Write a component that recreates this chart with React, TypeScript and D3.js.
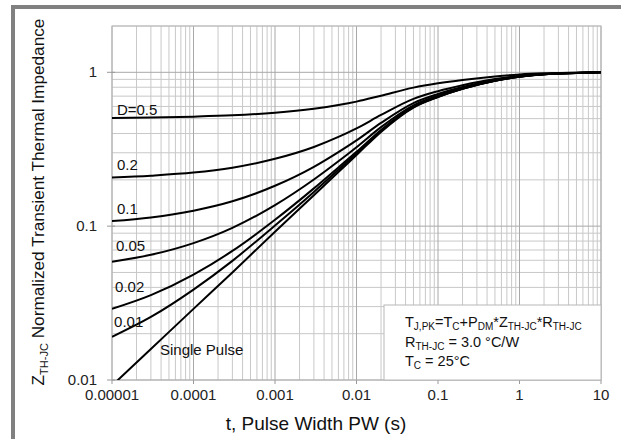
import React from "react";
import * as d3 from "d3";

const times = [1e-5, 3e-5, 1e-4, 3e-4, 1e-3, 3e-3, 6e-3, 1e-2, 2e-2, 5e-2, 0.1, 0.2, 0.5, 1, 2, 5, 10];
const seriesNames = ["D=0.5", "0.2", "0.1", "0.05", "0.02", "0.01", "Single Pulse"];
const d05 = [0.505, 0.508, 0.515, 0.525, 0.546, 0.58, 0.613, 0.645, 0.705, 0.795, 0.848, 0.892, 0.94, 0.968, 0.985, 0.995, 1.0];
const d02 = [0.207, 0.213, 0.223, 0.24, 0.274, 0.327, 0.38, 0.432, 0.528, 0.672, 0.754, 0.824, 0.904, 0.948, 0.976, 0.992, 1.0];
const d01 = [0.108, 0.114, 0.126, 0.145, 0.183, 0.243, 0.303, 0.361, 0.469, 0.631, 0.722, 0.802, 0.892, 0.942, 0.973, 0.991, 1.0];
const d005 = [0.0587, 0.0651, 0.0776, 0.0975, 0.137, 0.201, 0.264, 0.326, 0.44, 0.61, 0.706, 0.791, 0.886, 0.938, 0.972, 0.99, 1.0];
const d002 = [0.029, 0.0356, 0.0484, 0.069, 0.11, 0.176, 0.241, 0.304, 0.422, 0.598, 0.696, 0.784, 0.882, 0.936, 0.971, 0.99, 1.0];
const d001 = [0.0191, 0.0257, 0.0387, 0.0595, 0.101, 0.167, 0.233, 0.297, 0.416, 0.594, 0.693, 0.782, 0.881, 0.936, 0.97, 0.99, 1.0];
const single = [0.0092, 0.0159, 0.029, 0.05, 0.092, 0.159, 0.225, 0.29, 0.41, 0.59, 0.69, 0.78, 0.88, 0.935, 0.97, 0.99, 1.0];
const seriesValues = [d05, d02, d01, d005, d002, d001, single];
// label anchor positions in data coords (t, Z)
const labelT = [1.15e-5, 1.15e-5, 1.15e-5, 1.12e-5, 1.09e-5, 1.06e-5, 3.88e-5];
const labelZ = [0.526, 0.231, 0.1197, 0.0688, 0.0373, 0.0221, 0.0145];

const xTickValues = [1e-5, 1e-4, 1e-3, 1e-2, 1e-1, 1, 10];
const xTickLabels = ["0.00001", "0.0001", "0.001", "0.01", "0.1", "1", "10"];
const yTickValues = [0.01, 0.1, 1];
const yTickLabels = ["0.01", "0.1", "1"];

const W = 621;
const H = 439;
const M = { left: 112, right: 601, top: 26, bottom: 380 };
const FONT = "'Liberation Sans', Arial, Helvetica, sans-serif";

export default function App() {
  const x = d3.scaleLog().domain([1e-5, 10]).range([M.left, M.right]);
  const y = d3.scaleLog().domain([0.01, 2]).range([M.bottom, M.top]);

  const minorX: number[] = [];
  for (let e = -5; e < 1; e++) {
    for (let k = 2; k <= 9; k++) minorX.push(k * Math.pow(10, e));
  }
  const minorY: number[] = [];
  for (let e = -2; e < 0; e++) {
    for (let k = 2; k <= 9; k++) minorY.push(k * Math.pow(10, e));
  }
  minorY.push(2);

  const line = d3
    .line<number>()
    .x((_, i) => x(times[i]))
    .y((v) => y(v))
    .curve(d3.curveMonotoneX);

  const gridMinor = "#c8c8c8";
  const gridMajor = "#a8a8a8";

  return (
    <svg
      width={W}
      height={H}
      style={{ position: "absolute", left: 0, top: 0, background: "#fff" }}
      fontFamily={FONT}
    >
      <rect x={0} y={0} width={W} height={H} fill="#fff" />
      {/* outer gray frame */}
      <rect x={11} y={5} width={W - 11} height={4} fill="#808080" />
      <rect x={11} y={5} width={4} height={H - 5} fill="#808080" />

      <defs>
        <clipPath id="plotclip">
          <rect x={M.left} y={M.top} width={M.right - M.left} height={M.bottom - M.top} />
        </clipPath>
      </defs>

      {/* grid */}
      <g>
        {minorX.map((v, i) => (
          <line key={"mx" + i} x1={x(v)} x2={x(v)} y1={M.top} y2={M.bottom} stroke={gridMinor} strokeWidth={1} />
        ))}
        {minorY.map((v, i) => (
          <line key={"my" + i} x1={M.left} x2={M.right} y1={y(v)} y2={y(v)} stroke={gridMinor} strokeWidth={1} />
        ))}
        {xTickValues.map((v, i) => (
          <line key={"Mx" + i} x1={x(v)} x2={x(v)} y1={M.top} y2={M.bottom} stroke={gridMajor} strokeWidth={1} />
        ))}
        {yTickValues.map((v, i) => (
          <line key={"My" + i} x1={M.left} x2={M.right} y1={y(v)} y2={y(v)} stroke={gridMajor} strokeWidth={1} />
        ))}
        <rect x={M.left} y={M.top} width={M.right - M.left} height={M.bottom - M.top} fill="none" stroke="#b8b8b8" strokeWidth={1} />
      </g>

      {/* ticks */}
      {xTickValues.map((v, i) => (
        <line key={"xt" + i} x1={x(v)} x2={x(v)} y1={M.bottom} y2={M.bottom + 4} stroke="#999" />
      ))}
      {yTickValues.map((v, i) => (
        <line key={"yt" + i} x1={M.left - 5} x2={M.left + 3} y1={y(v)} y2={y(v)} stroke="#999" />
      ))}

      {/* tick labels */}
      {xTickValues.map((v, i) => (
        <text key={"xl" + i} x={x(v)} y={400} fontSize={15} textAnchor="middle" fill="#222">
          {xTickLabels[i]}
        </text>
      ))}
      {yTickValues.map((v, i) => (
        <text key={"yl" + i} x={97} y={y(v) + 5} fontSize={15} textAnchor="end" fill="#222">
          {yTickLabels[i]}
        </text>
      ))}

      {/* curves */}
      <g clipPath="url(#plotclip)">
        {seriesValues.map((vals, i) => (
          <path key={"c" + i} d={line(vals) || ""} fill="none" stroke="#000" strokeWidth={2} />
        ))}
      </g>

      {/* curve labels */}
      {seriesNames.map((n, i) => (
        <text key={"cl" + i} x={x(labelT[i])} y={y(labelZ[i])} fontSize={15} fill="#111">
          {n}
        </text>
      ))}

      {/* info box */}
      <rect x={384} y={305} width={M.right - 384} height={M.bottom - 305} fill="#fff" stroke="#b8b8b8" />
      <text x={405} y={327} fontSize={14.5} fill="#111">
        T<tspan fontSize={10} dy={3}>J,PK</tspan>
        <tspan dy={-3}>=T</tspan>
        <tspan fontSize={10} dy={3}>C</tspan>
        <tspan dy={-3}>+P</tspan>
        <tspan fontSize={10} dy={3}>DM</tspan>
        <tspan dy={-3}>*Z</tspan>
        <tspan fontSize={10} dy={3}>TH-JC</tspan>
        <tspan dy={-3}>*R</tspan>
        <tspan fontSize={10} dy={3}>TH-JC</tspan>
      </text>
      <text x={405} y={347} fontSize={14.5} fill="#111">
        R<tspan fontSize={10} dy={3}>TH-JC</tspan>
        <tspan dy={-3}> = 3.0 °C/W</tspan>
      </text>
      <text x={405} y={366} fontSize={14.5} fill="#111">
        T<tspan fontSize={10} dy={3}>C</tspan>
        <tspan dy={-3}> = 25°C</tspan>
      </text>

      {/* axis titles */}
      <text x={316} y={430} fontSize={19} textAnchor="middle" fill="#111">
        t, Pulse Width PW (s)
      </text>
      <text transform={`translate(44, 202) rotate(-90)`} fontSize={17.2} textAnchor="middle" fill="#111">
        Z<tspan fontSize={11} dy={4}>TH-JC</tspan>
        <tspan dy={-4}> Normalized Transient Thermal Impedance</tspan>
      </text>
    </svg>
  );
}
